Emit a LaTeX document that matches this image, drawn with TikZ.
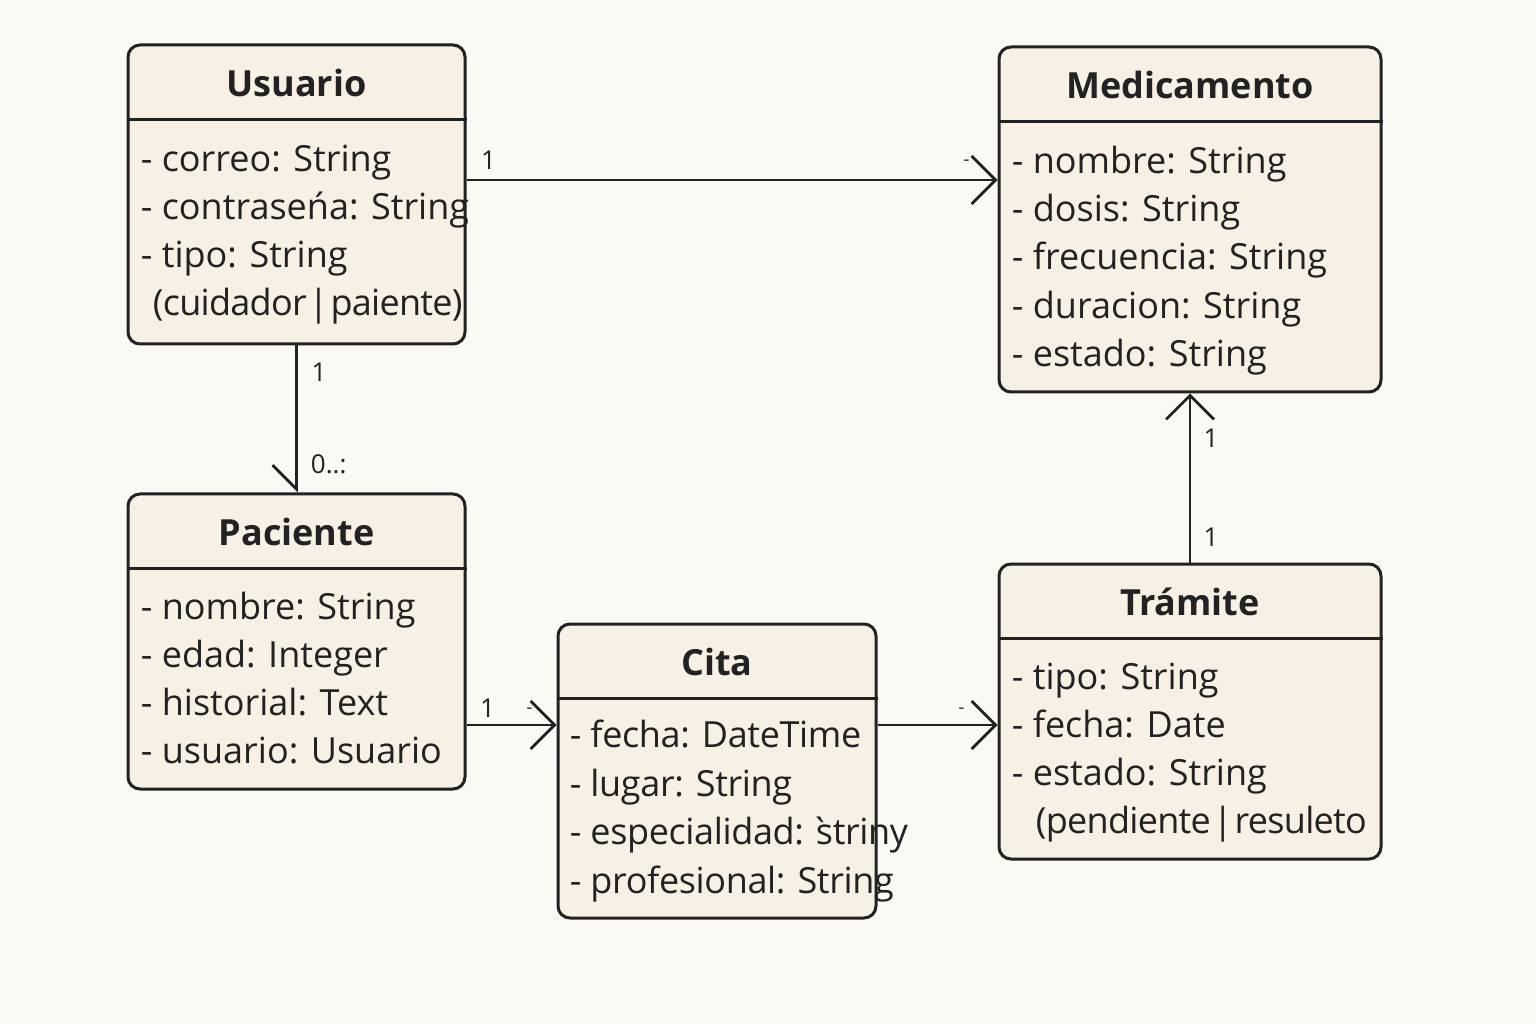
\documentclass[tikz,border=0pt]{standalone}
\usepackage{fontspec}
\setmainfont{Open Sans}
\usetikzlibrary{arrows.meta,positioning}
\definecolor{paper}{HTML}{FBF9F4}
\definecolor{boxfill}{HTML}{F7F0E4}
\definecolor{ink}{HTML}{222222}
\newcommand{\attrfont}{\fontsize{18}{24}\selectfont}
\newcommand{\multfont}{\fontsize{13}{15}\selectfont}
\newcommand{\orbar}{\hspace{-2pt}\,|\,\hspace{-2pt}}
\newcommand{\tight}[1]{\addfontfeature{LetterSpace=#1}}
\tikzset{
  every picture/.style = {line join=round},
  classbox/.style      = {draw=ink, fill=boxfill, line width=1.5pt, rounded corners=6pt, inner sep=0pt},
  divider/.style       = {draw=ink, line width=1.5pt},
  title/.style         = {font=\attrfont\bfseries, text=ink, inner sep=0pt, text height=14pt, text depth=1pt},
  attr/.style          = {font=\attrfont, text=ink, anchor=west, inner sep=0pt, text height=14pt, text depth=1pt},
  assoc/.style         = {draw=ink, line width=1.25pt,
                          -{Straight Barb[length=12pt, width=24pt, line width=1.4pt]}},
  assochalf/.style     = {draw=ink, line width=1.25pt,
                          -{Straight Barb[length=12pt, width=24pt, line width=1.4pt, right]}},
  mult/.style          = {font=\multfont, text=ink, inner sep=0pt},
  tick/.style          = {font=\fontsize{9}{10}\selectfont, text=ink, inner sep=0pt},
}

\begin{document}
\begin{tikzpicture}[x=0.5pt, y=0.5pt]
  \fill[paper] (0,0) rectangle (1536,1024);
  \useasboundingbox (0,0) rectangle (1536,1024);

  % ---------- the five classes --------------------------------------------
  \node[classbox, minimum width=168.5pt, minimum height=149.5pt] (usuario)     at (296.5,829.5) {};
  \node[classbox, minimum width=191pt,   minimum height=172.5pt] (medicamento) at (1190,804.5)  {};
  \node[classbox, minimum width=168.5pt, minimum height=147.5pt] (paciente)    at (296.5,382.5) {};
  \node[classbox, minimum width=159pt,   minimum height=147pt]   (cita)        at (717,253)     {};
  \node[classbox, minimum width=191pt,   minimum height=147.5pt] (tramite)     at (1190,312.5)  {};

  % header rule and name of each class
  \foreach \c/\t in {usuario/Usuario, medicamento/Medicamento, paciente/Paciente,
                     cita/Cita, tramite/Trámite} {
    \draw[divider] ([yshift=-38pt]\c.north west) -- ([yshift=-38pt]\c.north east);
    \node[title] (\c-title) at ([yshift=-20pt]\c.north) {\t};
  }

  % attributes, one line every 24pt
  \foreach \a [count=\i from 0] in {- correo: String, - contraseńa: String, - tipo: String,
                                    {\tight{-2}\hspace{6pt}(cuidador\orbar paiente)}}
    \node[attr] (usuario-a\i) at ([xshift=7pt, yshift={-(57.5+24*\i)*1pt}]usuario.north west) {\a};
  \foreach \a [count=\i from 0] in {- nombre: String, - dosis: String, - frecuencia: String,
                                    - duracion: String, - estado: String}
    \node[attr] (medicamento-a\i) at ([xshift=7pt, yshift={-(57.5+24.1*\i)*1pt}]medicamento.north west) {\a};
  \foreach \a [count=\i from 0] in {- nombre: String, - edad: Integer, - historial: Text,
                                    - usuario: Usuario}
    \node[attr] (paciente-a\i) at ([xshift=7pt, yshift={-(57+24*\i)*1pt}]paciente.north west) {\a};
  \foreach \a [count=\i from 0] in {- fecha: DateTime, - lugar: String,
                                    {- especialidad: \`{s}triny}, - profesional: String}
    \node[attr] (cita-a\i) at ([xshift=6.5pt, yshift={-(56+24.3*\i)*1pt}]cita.north west) {\tight{-1}\a};
  \foreach \a [count=\i from 0] in {- tipo: String, - fecha: Date, - estado: String,
                                    {\tight{-2}\hspace{12pt}(pendiente\orbar resuleto}}
    \node[attr] (tramite-a\i) at ([xshift=7pt, yshift={-(57+24*\i)*1pt}]tramite.north west) {\a};

  % ---------- associations ------------------------------------------------
  \coordinate (u-out) at ([yshift=7.25pt]usuario.east);
  \coordinate (p-out) at ([yshift=-41.75pt]paciente.east);

  \draw[assoc]     (u-out) -- (u-out -| medicamento.west);
  \draw[assochalf] (usuario.south) -- (paciente.north);
  \draw[assoc]     (p-out) -- (p-out -| cita.west);
  \draw[assoc]     (p-out -| cita.east) -- (p-out -| tramite.west);
  \draw[assoc]     (tramite.north) -- (medicamento.south);

  % multiplicities
  \node[mult] (m-uu) at ([shift={(11pt,10pt)}]u-out) {1};
  \node[tick] (t-um) at ([shift={(-15.5pt,8.5pt)}]u-out -| medicamento.west) {-};
  \node[mult] (m-up) at ([shift={(11.25pt,-13.5pt)}]usuario.south) {1};
  \node[mult, anchor=west] (m-pu) at ([shift={(7pt,14pt)}]paciente.north) {0..:};
  \node[mult] (m-pc) at ([shift={(10.5pt,8.5pt)}]p-out) {1};
  \node[tick] (t-pc) at ([shift={(31.5pt,7pt)}]p-out) {-};
  \node[tick] (t-ct) at ([shift={(-18pt,7pt)}]p-out -| tramite.west) {-};
  \node[mult] (m-mt) at ([shift={(10.5pt,-22.5pt)}]medicamento.south) {1};
  \node[mult] (m-tm) at ([shift={(10.5pt,12.5pt)}]tramite.north) {1};
\end{tikzpicture}
\end{document}
